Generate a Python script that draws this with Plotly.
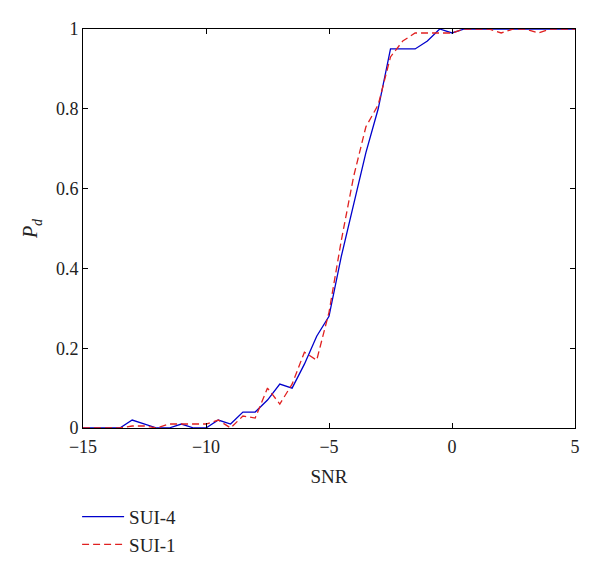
import plotly.graph_objects as go

snr = [-15, -14.5, -14, -13.5, -13, -12.5, -12, -11.5, -11, -10.5, -10, -9.5, -9, -8.5, -8,
       -7.5, -7, -6.5, -6, -5.5, -5, -4.5, -4, -3.5, -3, -2.5, -2, -1.5, -1, -0.5,
       0, 0.5, 1, 1.5, 2, 2.5, 3, 3.5, 4, 4.5, 5]

sui4 = [0, 0, 0, 0, 0.02, 0.01, 0, 0, 0.01, 0, 0, 0.02, 0.01, 0.04, 0.04,
        0.07, 0.11, 0.10, 0.16, 0.23, 0.28, 0.43, 0.56, 0.69, 0.80, 0.95, 0.95, 0.95, 0.97, 1.0,
        0.99, 1.0, 1.0, 1.0, 1.0, 1.0, 1.0, 1.0, 1.0, 1.0, 1.0]

sui1 = [0, 0, 0, 0, 0.005, 0.005, 0, 0.01, 0.01, 0.01, 0.01, 0.02, 0, 0.03, 0.025,
        0.10, 0.06, 0.11, 0.19, 0.17, 0.29, 0.47, 0.63, 0.755, 0.81, 0.93, 0.97, 0.99, 0.99, 0.99,
        0.99, 1.0, 1.0, 1.0, 0.99, 1.0, 1.0, 0.99, 1.0, 1.0, 1.0]

x_ticks = [-15, -10, -5, 0, 5]
x_ticklabels = ["\u221215", "\u221210", "\u22125", "0", "5"]
y_ticks = [0, 0.2, 0.4, 0.6, 0.8, 1]
y_ticklabels = ["0", "0.2", "0.4", "0.6", "0.8", "1"]

font_family = "Liberation Serif"

fig = go.Figure()
fig.add_trace(go.Scatter(x=snr, y=sui4, mode="lines", name="SUI-4",
                         line=dict(color="#0000cc", width=1.3)))
fig.add_trace(go.Scatter(x=snr, y=sui1, mode="lines", name="SUI-1",
                         line=dict(color="#e02020", width=1.3, dash="7px,4px")))

axis_common = dict(showline=True, linecolor="black", linewidth=1, mirror="ticks",
                   ticks="inside", ticklen=5, tickcolor="black", showgrid=False,
                   zeroline=False, automargin=False,
                   tickfont=dict(family=font_family, size=18, color="#222"))

fig.update_layout(
    width=600, height=570,
    margin=dict(l=75, r=33, t=21, b=150),
    paper_bgcolor="white", plot_bgcolor="white",
    font=dict(family=font_family, size=19, color="#222"),
    xaxis=dict(range=[-15, 5], tickvals=x_ticks, ticktext=x_ticklabels,
               ticklabelstandoff=2,
               title=dict(text="SNR", font=dict(family=font_family, size=19), standoff=14),
               **axis_common),
    yaxis=dict(range=[0, 1], tickvals=y_ticks, ticktext=y_ticklabels,
               title=dict(text="<i>P</i><sub><i>d</i></sub>", font=dict(family=font_family, size=20), standoff=12),
               **axis_common),
    legend=dict(x=-0.012, xanchor="left", y=-0.175, yanchor="top", bgcolor="rgba(0,0,0,0)",
                font=dict(family=font_family, size=19), tracegroupgap=0, itemwidth=42),
    showlegend=True,
)

fig.write_html("out.html")
